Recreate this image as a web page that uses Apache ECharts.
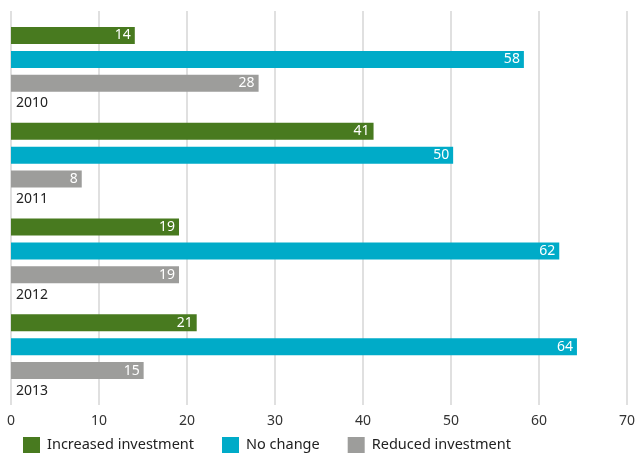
<!DOCTYPE html>
<html><head><meta charset="utf-8">
<script src="https://cdn.jsdelivr.net/npm/echarts@6/dist/echarts.min.js"></script>
<style>html,body{margin:0;padding:0;background:#fff}#c{width:638px;height:453px}</style>
</head><body><div id="c"></div>
<script>
const years = ['2010', '2011', '2012', '2013'];
const increased = [14, 41, 19, 21];
const noChange = [58, 50, 62, 64];
const reduced = [28, 8, 19, 15];
const ticks = [0, 10, 20, 30, 40, 50, 60, 70];
const seriesNames = ['Increased investment', 'No change', 'Reduced investment'];
const colors = ['#487a1f', '#00abc8', '#9d9d9b'];

const font = 'Noto Sans';
const chart = echarts.init(document.getElementById('c'));
const valLabel = {show: true, position: 'insideRight', color: '#fff', fontSize: 14, fontFamily: font, distance: 4};
chart.setOption({
  animation: false,
  grid: [
    {left: 11, right: 8, top: 11, bottom: 48},
    {left: 11, right: 8, top: 23.5, bottom: 46.5}
  ],
  xAxis: [
    {gridIndex: 0, type: 'value', min: ticks[0], max: ticks[ticks.length - 1], interval: 10,
     axisLine: {show: false}, axisTick: {show: false},
     splitLine: {show: true, lineStyle: {color: '#d6d6d6', width: 1.5}},
     axisLabel: {color: '#333', fontSize: 14, fontFamily: font, margin: 9}},
    {gridIndex: 1, type: 'value', min: ticks[0], max: ticks[ticks.length - 1], show: false}
  ],
  yAxis: [
    {gridIndex: 0, type: 'value', show: false},
    {gridIndex: 1, type: 'category', data: years, inverse: true, show: false}
  ],
  legend: {
    data: seriesNames, left: 18, top: 432, itemWidth: 17, itemHeight: 16, itemGap: 28,
    icon: 'rect', textStyle: {color: '#222', fontSize: 14.5, fontFamily: font, padding: [0, 0, 0, 2]}
  },
  series: [
    {name: seriesNames[0], type: 'bar', xAxisIndex: 1, yAxisIndex: 1, data: increased,
     itemStyle: {color: colors[0]}, barWidth: 17, barGap: '41%', label: valLabel},
    {name: seriesNames[1], type: 'bar', xAxisIndex: 1, yAxisIndex: 1, data: noChange,
     itemStyle: {color: colors[1]}, barWidth: 17, barGap: '41%', label: valLabel},
    {name: seriesNames[2], type: 'bar', xAxisIndex: 1, yAxisIndex: 1, data: reduced,
     itemStyle: {color: colors[2]}, barWidth: 17, barGap: '41%', label: valLabel},
    {name: 'year', type: 'bar', xAxisIndex: 1, yAxisIndex: 1, data: years.map(() => 0),
     barWidth: 17, barGap: '41%', itemStyle: {color: 'rgba(0,0,0,0)'},
     label: {show: true, position: 'right', distance: 5, offset: [0, -4], color: '#222', fontSize: 14, fontFamily: font,
       formatter: p => p.name}}
  ]
});
</script></body></html>
